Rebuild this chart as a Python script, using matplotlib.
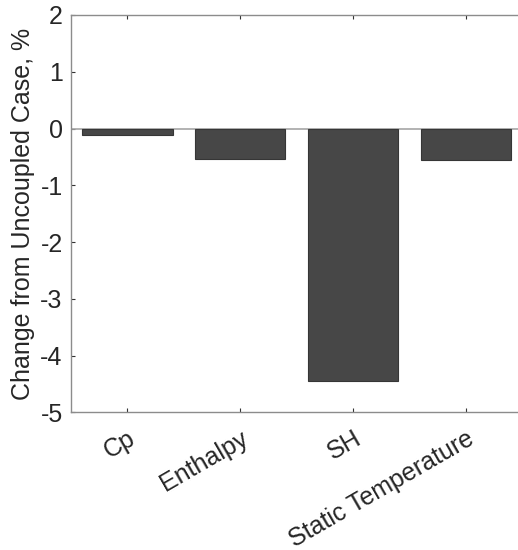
import matplotlib.pyplot as plt
import numpy as np

plt.rcParams['font.family'] = ['Liberation Sans', 'DejaVu Sans']

# percent change relative to the uncoupled run
names = ['Cp', 'Enthalpy', 'SH', 'Static Temperature']
change = [-0.12, -0.53, -4.44, -0.56]

fig = plt.figure(figsize=(5.18, 5.5), dpi=100)
# right edge of the box sits just past the figure border
ax = fig.add_axes([71 / 518, 1 - 412.3 / 550, 451.5 / 518, 397.3 / 550])

x = np.arange(1, len(names) + 1)
ax.bar(x, change, width=0.8, color='#474747', edgecolor='#363636', linewidth=0.8, zorder=3)
ax.axhline(0, color='#a6a6a6', linewidth=1.2, zorder=2)

ax.set_xlim(0.5, 4.5)
ax.set_ylim(-5, 2)
ax.set_yticks(range(-5, 3))
ax.set_yticklabels([str(v) for v in range(-5, 3)])
ax.set_xticks(x)
ax.set_xticklabels(names, rotation=30, ha='right', va='top', rotation_mode='anchor')

ax.tick_params(direction='in', length=3, width=0.8, color='#333333',
               top=True, right=True, labelsize=18, labelcolor='#262626', pad=6)
ax.tick_params(axis='x', labelsize=18, pad=10)
for s in ax.spines.values():
    s.set_color('#8c8c8c')
    s.set_linewidth(1.0)

ax.set_ylabel('Change from Uncoupled Case, %', fontsize=18, color='#262626', labelpad=4)

fig.savefig('out.png', dpi=100)
